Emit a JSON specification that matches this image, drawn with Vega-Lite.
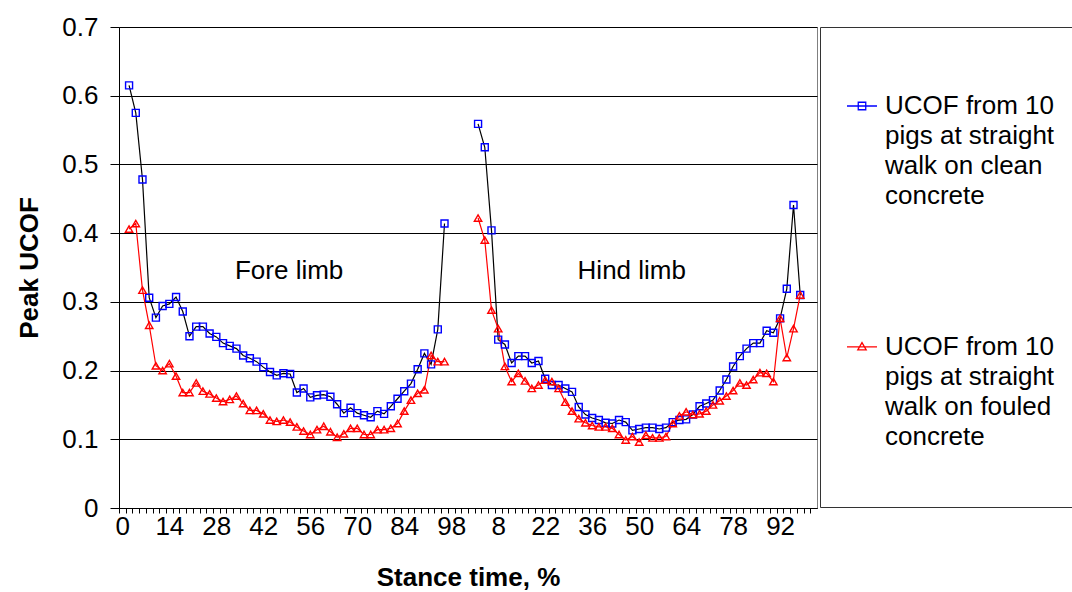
{
  "$schema": "https://vega.github.io/schema/vega-lite/v6.json",
  "width": 698,
  "height": 481,
  "autosize": {"type": "none"},
  "padding": {"left": 119, "top": 27, "right": 255, "bottom": 84},
  "background": "white",
  "data": {
    "values": [
      {"limb": "fore", "i": 1, "clean": 0.615, "fouled": 0.406},
      {"limb": "fore", "i": 2, "clean": 0.575, "fouled": 0.414},
      {"limb": "fore", "i": 3, "clean": 0.478, "fouled": 0.317},
      {"limb": "fore", "i": 4, "clean": 0.306, "fouled": 0.266},
      {"limb": "fore", "i": 5, "clean": 0.277, "fouled": 0.207},
      {"limb": "fore", "i": 6, "clean": 0.294, "fouled": 0.200},
      {"limb": "fore", "i": 7, "clean": 0.297, "fouled": 0.210},
      {"limb": "fore", "i": 8, "clean": 0.307, "fouled": 0.192},
      {"limb": "fore", "i": 9, "clean": 0.286, "fouled": 0.168},
      {"limb": "fore", "i": 10, "clean": 0.250, "fouled": 0.168},
      {"limb": "fore", "i": 11, "clean": 0.264, "fouled": 0.182},
      {"limb": "fore", "i": 12, "clean": 0.264, "fouled": 0.170},
      {"limb": "fore", "i": 13, "clean": 0.254, "fouled": 0.166},
      {"limb": "fore", "i": 14, "clean": 0.249, "fouled": 0.160},
      {"limb": "fore", "i": 15, "clean": 0.240, "fouled": 0.155},
      {"limb": "fore", "i": 16, "clean": 0.236, "fouled": 0.158},
      {"limb": "fore", "i": 17, "clean": 0.232, "fouled": 0.163},
      {"limb": "fore", "i": 18, "clean": 0.222, "fouled": 0.152},
      {"limb": "fore", "i": 19, "clean": 0.218, "fouled": 0.142},
      {"limb": "fore", "i": 20, "clean": 0.213, "fouled": 0.142},
      {"limb": "fore", "i": 21, "clean": 0.205, "fouled": 0.137},
      {"limb": "fore", "i": 22, "clean": 0.198, "fouled": 0.128},
      {"limb": "fore", "i": 23, "clean": 0.193, "fouled": 0.126},
      {"limb": "fore", "i": 24, "clean": 0.196, "fouled": 0.128},
      {"limb": "fore", "i": 25, "clean": 0.195, "fouled": 0.125},
      {"limb": "fore", "i": 26, "clean": 0.168, "fouled": 0.118},
      {"limb": "fore", "i": 27, "clean": 0.174, "fouled": 0.112},
      {"limb": "fore", "i": 28, "clean": 0.161, "fouled": 0.107},
      {"limb": "fore", "i": 29, "clean": 0.164, "fouled": 0.114},
      {"limb": "fore", "i": 30, "clean": 0.165, "fouled": 0.119},
      {"limb": "fore", "i": 31, "clean": 0.162, "fouled": 0.111},
      {"limb": "fore", "i": 32, "clean": 0.151, "fouled": 0.103},
      {"limb": "fore", "i": 33, "clean": 0.138, "fouled": 0.108},
      {"limb": "fore", "i": 34, "clean": 0.146, "fouled": 0.116},
      {"limb": "fore", "i": 35, "clean": 0.138, "fouled": 0.116},
      {"limb": "fore", "i": 36, "clean": 0.135, "fouled": 0.107},
      {"limb": "fore", "i": 37, "clean": 0.132, "fouled": 0.107},
      {"limb": "fore", "i": 38, "clean": 0.141, "fouled": 0.114},
      {"limb": "fore", "i": 39, "clean": 0.137, "fouled": 0.114},
      {"limb": "fore", "i": 40, "clean": 0.148, "fouled": 0.116},
      {"limb": "fore", "i": 41, "clean": 0.159, "fouled": 0.123},
      {"limb": "fore", "i": 42, "clean": 0.170, "fouled": 0.141},
      {"limb": "fore", "i": 43, "clean": 0.181, "fouled": 0.157},
      {"limb": "fore", "i": 44, "clean": 0.202, "fouled": 0.167},
      {"limb": "fore", "i": 45, "clean": 0.225, "fouled": 0.172},
      {"limb": "fore", "i": 46, "clean": 0.209, "fouled": 0.222},
      {"limb": "fore", "i": 47, "clean": 0.260, "fouled": 0.213},
      {"limb": "fore", "i": 48, "clean": 0.414, "fouled": 0.213},
      {"limb": "hind", "i": 53, "clean": 0.559, "fouled": 0.422},
      {"limb": "hind", "i": 54, "clean": 0.525, "fouled": 0.390},
      {"limb": "hind", "i": 55, "clean": 0.404, "fouled": 0.288},
      {"limb": "hind", "i": 56, "clean": 0.245, "fouled": 0.261},
      {"limb": "hind", "i": 57, "clean": 0.238, "fouled": 0.206},
      {"limb": "hind", "i": 58, "clean": 0.211, "fouled": 0.184},
      {"limb": "hind", "i": 59, "clean": 0.221, "fouled": 0.196},
      {"limb": "hind", "i": 60, "clean": 0.221, "fouled": 0.185},
      {"limb": "hind", "i": 61, "clean": 0.211, "fouled": 0.174},
      {"limb": "hind", "i": 62, "clean": 0.214, "fouled": 0.179},
      {"limb": "hind", "i": 63, "clean": 0.188, "fouled": 0.186},
      {"limb": "hind", "i": 64, "clean": 0.179, "fouled": 0.184},
      {"limb": "hind", "i": 65, "clean": 0.179, "fouled": 0.174},
      {"limb": "hind", "i": 66, "clean": 0.174, "fouled": 0.154},
      {"limb": "hind", "i": 67, "clean": 0.169, "fouled": 0.141},
      {"limb": "hind", "i": 68, "clean": 0.147, "fouled": 0.130},
      {"limb": "hind", "i": 69, "clean": 0.136, "fouled": 0.124},
      {"limb": "hind", "i": 70, "clean": 0.131, "fouled": 0.120},
      {"limb": "hind", "i": 71, "clean": 0.128, "fouled": 0.118},
      {"limb": "hind", "i": 72, "clean": 0.124, "fouled": 0.118},
      {"limb": "hind", "i": 73, "clean": 0.123, "fouled": 0.116},
      {"limb": "hind", "i": 74, "clean": 0.128, "fouled": 0.107},
      {"limb": "hind", "i": 75, "clean": 0.125, "fouled": 0.099},
      {"limb": "hind", "i": 76, "clean": 0.113, "fouled": 0.104},
      {"limb": "hind", "i": 77, "clean": 0.115, "fouled": 0.096},
      {"limb": "hind", "i": 78, "clean": 0.117, "fouled": 0.106},
      {"limb": "hind", "i": 79, "clean": 0.117, "fouled": 0.102},
      {"limb": "hind", "i": 80, "clean": 0.115, "fouled": 0.102},
      {"limb": "hind", "i": 81, "clean": 0.117, "fouled": 0.104},
      {"limb": "hind", "i": 82, "clean": 0.125, "fouled": 0.123},
      {"limb": "hind", "i": 83, "clean": 0.128, "fouled": 0.134},
      {"limb": "hind", "i": 84, "clean": 0.129, "fouled": 0.140},
      {"limb": "hind", "i": 85, "clean": 0.136, "fouled": 0.136},
      {"limb": "hind", "i": 86, "clean": 0.148, "fouled": 0.137},
      {"limb": "hind", "i": 87, "clean": 0.152, "fouled": 0.141},
      {"limb": "hind", "i": 88, "clean": 0.157, "fouled": 0.150},
      {"limb": "hind", "i": 89, "clean": 0.171, "fouled": 0.156},
      {"limb": "hind", "i": 90, "clean": 0.187, "fouled": 0.163},
      {"limb": "hind", "i": 91, "clean": 0.206, "fouled": 0.171},
      {"limb": "hind", "i": 92, "clean": 0.221, "fouled": 0.182},
      {"limb": "hind", "i": 93, "clean": 0.232, "fouled": 0.179},
      {"limb": "hind", "i": 94, "clean": 0.240, "fouled": 0.187},
      {"limb": "hind", "i": 95, "clean": 0.240, "fouled": 0.197},
      {"limb": "hind", "i": 96, "clean": 0.258, "fouled": 0.196},
      {"limb": "hind", "i": 97, "clean": 0.255, "fouled": 0.184},
      {"limb": "hind", "i": 98, "clean": 0.276, "fouled": 0.276},
      {"limb": "hind", "i": 99, "clean": 0.319, "fouled": 0.219},
      {"limb": "hind", "i": 100, "clean": 0.441, "fouled": 0.261},
      {"limb": "hind", "i": 101, "clean": 0.310, "fouled": 0.310}
    ]
  },
  "encoding": {
    "x": {
      "field": "i",
      "type": "quantitative",
      "title": "Stance time, %",
      "scale": {"domain": [-0.5, 103.5], "nice": false, "zero": false},
      "axis": {
        "values": [0,1,2,3,4,5,6,7,8,9,10,11,12,13,14,15,16,17,18,19,20,21,22,23,24,25,26,27,28,29,30,31,32,33,34,35,36,37,38,39,40,41,42,43,44,45,46,47,48,49,50,51,52,53,54,55,56,57,58,59,60,61,62,63,64,65,66,67,68,69,70,71,72,73,74,75,76,77,78,79,80,81,82,83,84,85,86,87,88,89,90,91,92,93,94,95,96,97,98,99,100,101,102,103],
        "labelExpr": "datum.value % 7 == 0 ? (datum.value <= 50 ? '' + (datum.value * 2) : '' + ((datum.value - 52) * 2)) : ''",
        "labelOverlap": false,
        "labelFlush": false,
        "grid": false,
        "tickSize": 5,
        "tickOffset": -3.35,
        "labelOffset": 3.35,
        "tickColor": "#000000",
        "domainColor": "#000000",
        "labelFontSize": 26,
        "labelColor": "#000000",
        "labelPadding": 0,
        "titleFontSize": 26,
        "titleFontWeight": "bold",
        "titleColor": "#000000",
        "titlePadding": 25
      }
    },
    "y": {
      "field": "v",
      "type": "quantitative",
      "title": "Peak UCOF",
      "scale": {"domain": [0, 0.7], "nice": false},
      "axis": {
        "values": [0, 0.1, 0.2, 0.3, 0.4, 0.5, 0.6, 0.7],
        "format": "~g",
        "grid": true,
        "gridColor": "#000000",
        "gridOpacity": 1,
        "tickSize": 9,
        "tickColor": "#000000",
        "domainColor": "#000000",
        "labelPadding": 12,
        "labelFontSize": 26,
        "labelColor": "#000000",
        "titleFontSize": 26,
        "titleFontWeight": "bold",
        "titleColor": "#000000",
        "titlePadding": 19
      }
    }
  },
  "layer": [
    {
      "transform": [{"fold": ["clean", "fouled"], "as": ["series", "v"]}],
      "mark": {"type": "line", "strokeWidth": 1.2},
      "encoding": {
        "detail": {"field": "limb"},
        "stroke": {
          "field": "series",
          "scale": {"domain": ["clean", "fouled"], "range": ["#000000", "#FF0000"]},
          "legend": null
        }
      }
    },
    {
      "transform": [
        {"fold": ["clean", "fouled"], "as": ["series", "v"]},
        {"filter": "datum.series == 'clean'"}
      ],
      "mark": {"type": "point", "shape": "square", "filled": false, "color": "#0000FF", "size": 49, "strokeWidth": 1.4, "opacity": 1}
    },
    {
      "transform": [
        {"fold": ["clean", "fouled"], "as": ["series", "v"]},
        {"filter": "datum.series == 'fouled'"}
      ],
      "mark": {"type": "point", "shape": "triangle-up", "filled": false, "color": "#FF0000", "size": 55, "strokeWidth": 1.4, "opacity": 1}
    },
    {
      "transform": [{"fold": ["clean", "fouled"], "as": ["series", "v"]}],
      "mark": {"type": "point", "filled": false, "opacity": 0.001, "size": 900},
      "encoding": {
        "shape": {
          "field": "series",
          "title": "\u00a0",
          "scale": {
            "domain": ["clean", "c2", "c3", "c4", "b1", "b2", "b3", "b4", "fouled", "f2", "f3", "f4", "b5"],
            "range": ["M-1,0H1M-0.25,-0.25H0.25V0.25H-0.25Z", "M0,0", "M0,0", "M0,0", "M0,0", "M0,0", "M0,0", "M0,0", "M-1,0H1M0,-0.28L0.28,0.2H-0.28Z", "M0,0", "M0,0", "M0,0", "M0,0"]
          },
          "legend": {
            "labelExpr": "['UCOF from 10', 'pigs at straight', 'walk on clean', 'concrete', '', '', '', '', 'UCOF from 10', 'pigs at straight', 'walk on fouled', 'concrete', ''][indexof(['clean', 'c2', 'c3', 'c4', 'b1', 'b2', 'b3', 'b4', 'fouled', 'f2', 'f3', 'f4', 'b5'], datum.value)]"
          }
        },
        "color": {
          "field": "series",
          "title": "\u00a0",
          "scale": {
            "domain": ["clean", "c2", "c3", "c4", "b1", "b2", "b3", "b4", "fouled", "f2", "f3", "f4", "b5"],
            "range": ["#0000FF", "#FFFFFF", "#FFFFFF", "#FFFFFF", "#FFFFFF", "#FFFFFF", "#FFFFFF", "#FFFFFF", "#FF0000", "#FFFFFF", "#FFFFFF", "#FFFFFF", "#FFFFFF"]
          },
          "legend": {
            "labelExpr": "['UCOF from 10', 'pigs at straight', 'walk on clean', 'concrete', '', '', '', '', 'UCOF from 10', 'pigs at straight', 'walk on fouled', 'concrete', ''][indexof(['clean', 'c2', 'c3', 'c4', 'b1', 'b2', 'b3', 'b4', 'fouled', 'f2', 'f3', 'f4', 'b5'], datum.value)]"
          }
        }
      }
    },
    {
      "data": {"values": [
        {"i": 24.85, "v": 0.345, "t": "Fore limb"},
        {"i": 75.9, "v": 0.345, "t": "Hind limb"}
      ]},
      "mark": {"type": "text", "fontSize": 26, "color": "#000000", "align": "center", "baseline": "middle"},
      "encoding": {"text": {"field": "t"}}
    }
  ],
  "config": {
    "font": "Liberation Sans",
    "view": {"stroke": "#808080", "strokeWidth": 1},
    "legend": {
      "orient": "none", "legendX": 701, "legendY": 0, "padding": 26,
      "strokeColor": "#333333", "titleFontSize": 26, "titlePadding": 11,
      "labelFontSize": 26, "labelColor": "#000000", "labelOffset": 7, "labelLimit": 400,
      "rowPadding": 1.1, "symbolSize": 900, "symbolStrokeWidth": 1.3, "symbolOpacity": 1,
      "symbolLimit": 0
    }
  }
}
